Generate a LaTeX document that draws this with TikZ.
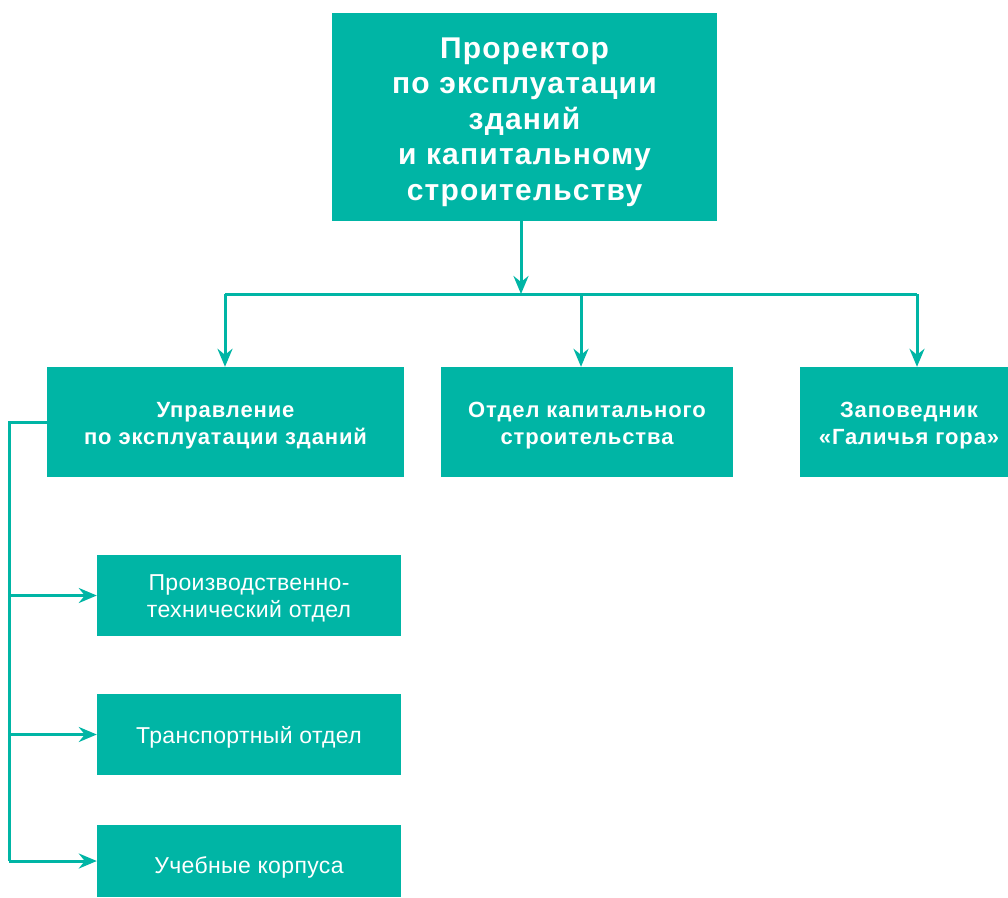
\documentclass[tikz,border=0pt]{standalone}
\usepackage{fontspec}
\setmainfont{Liberation Sans}
\usetikzlibrary{arrows.meta}
\definecolor{tealbox}{RGB}{0,181,165}
\begin{document}
\begin{tikzpicture}[x=1pt,y=-1pt,
  box/.style={fill=tealbox, inner sep=0pt, draw=none},
  lbl/.style={text=white, inner sep=0pt, align=center},
  bigtxt/.style={font=\fontsize{30}{35.5}\selectfont\bfseries\addfontfeature{LetterSpace=4}},
  midtxt/.style={font=\fontsize{22}{27}\selectfont\bfseries\addfontfeature{LetterSpace=4}},
  smalltxt/.style={font=\fontsize{23}{27}\selectfont\addfontfeature{LetterSpace=1.5}},
  line/.style={draw=tealbox, line width=3pt},
  arr/.style={line, -{Stealth[length=18pt,width=15pt,inset=6pt]}}]
\useasboundingbox (0,0) rectangle (1008,897);
\node[box,minimum width=385pt,minimum height=208pt,
  label={[lbl,bigtxt,yshift=-5pt]center:{Проректор\\по эксплуатации\\зданий\\и капитальному\\строительству}}] (top) at (524.5,117) {};
\node[box,minimum width=357pt,minimum height=110pt,
  label={[lbl,midtxt,yshift=-3.5pt]center:{Управление\\по эксплуатации зданий}}] (b1) at (225.5,422) {};
\node[box,minimum width=292pt,minimum height=110pt,
  label={[lbl,midtxt,yshift=-3.5pt]center:{Отдел капитального\\строительства}}] (b2) at (587,422) {};
\node[box,minimum width=208pt,minimum height=110pt,
  label={[lbl,midtxt,yshift=-3.5pt,xshift=5pt]center:{Заповедник\\«Галичья гора»}}] (b3) at (904,422) {};
\node[box,minimum width=304pt,minimum height=81pt,
  label={[lbl,smalltxt,yshift=-3pt]center:{Производственно-\\технический отдел}}] (c1) at (249,595.5) {};
\node[box,minimum width=304pt,minimum height=81pt,
  label={[lbl,smalltxt,yshift=-2.5pt]center:{Транспортный отдел}}] (c2) at (249,734.5) {};
\node[box,minimum width=304pt,minimum height=72pt,
  label={[lbl,smalltxt,yshift=-6.5pt]center:{Учебные корпуса}}] (c3) at (249,861) {};
\coordinate (hub) at (521,294);
\coordinate (hl) at (225,294);
\coordinate (hm) at (581,294);
\coordinate (hr) at (917,294);
\coordinate (lt) at (9,422);
\draw[line] (hl) -- (hr);
\draw[arr] (top.south -| hub) -- (hub);
\draw[arr] (hl) -- (hl |- b1.north);
\draw[arr] (hm) -- (hm |- b2.north);
\draw[arr] (hr) -- (hr |- b3.north);
\draw[line] (b1.west) -- (lt) -- (lt |- c3.west);
\draw[arr] (lt |- c1.west) -- (c1.west);
\draw[arr] (lt |- c2.west) -- (c2.west);
\draw[arr] (lt |- c3.west) -- (c3.west);
\end{tikzpicture}
\end{document}
